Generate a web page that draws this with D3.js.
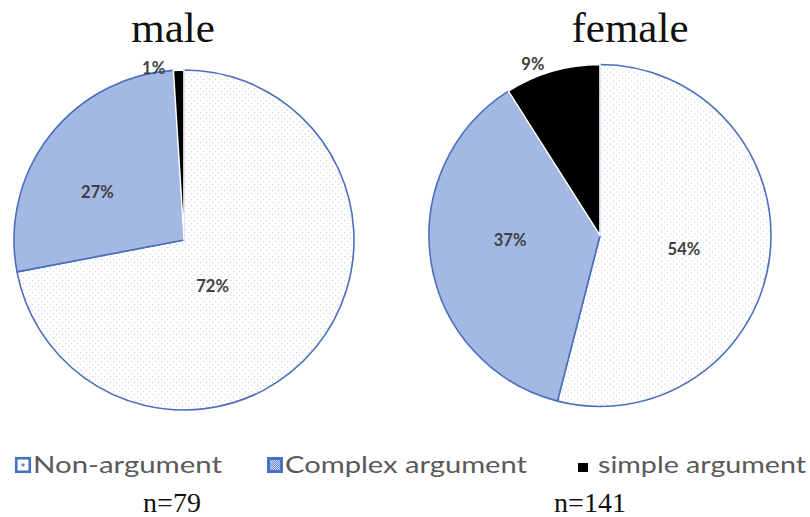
<!DOCTYPE html>
<html>
<head>
<meta charset="utf-8">
<script src="https://cdn.jsdelivr.net/npm/d3@7"></script>
<style>
  html, body { margin: 0; padding: 0; background: #fff; }
  svg { display: block; }
</style>
</head>
<body>
<svg id="chart" width="810" height="517"></svg>
<script>
// Argument types by gender (percent of answers)
const categories = ["Non-argument", "Complex argument", "simple argument"];
const groups = ["male", "female"];
const sampleSizes = [79, 141];
const maleValues = [72, 27, 1];
const femaleValues = [54, 37, 9];

// Layout of each pie: centre, radius and where each percent label sits
// (angle in degrees clockwise from 12 o'clock, distance from the centre)
const pieLayout = [
  { cx: 184, cy: 240, r: 170, titleX: 173, nX: 172,
    labels: [[148, 54], [299, 99], [350, 175]] },
  { cx: 600, cy: 235.5, r: 171, titleX: 630, nX: 590,
    labels: [[99, 85], [267, 90], [338.6, 184]] }
];

const svg = d3.select("#chart");
const defs = svg.append("defs");

// light dotted fill for the Non-argument slices
const dots = defs.append("pattern")
  .attr("id", "dots").attr("patternUnits", "userSpaceOnUse")
  .attr("width", 6).attr("height", 6);
dots.append("rect").attr("width", 6).attr("height", 6).attr("fill", "#ffffff");
dots.append("rect").attr("x", 1).attr("y", 1).attr("width", 1.2).attr("height", 1.2).attr("fill", "#cdd3df");
dots.append("rect").attr("x", 4).attr("y", 4).attr("width", 1.2).attr("height", 1.2).attr("fill", "#cdd3df");

// checker used inside the Complex argument legend key
const checker = defs.append("pattern")
  .attr("id", "checker").attr("patternUnits", "userSpaceOnUse")
  .attr("width", 2).attr("height", 2);
checker.append("rect").attr("width", 2).attr("height", 2).attr("fill", "#6f8fd0");
checker.append("rect").attr("width", 1).attr("height", 1).attr("fill", "#c8d4ef");
checker.append("rect").attr("x", 1).attr("y", 1).attr("width", 1).attr("height", 1).attr("fill", "#c8d4ef");

const fills = d3.scaleOrdinal().domain(categories)
  .range(["url(#dots)", "#a3b8e2", "#000000"]);
const strokes = d3.scaleOrdinal().domain(categories)
  .range(["#4a6fbd", "#4a6fbd", "#ffffff"]);

const pie = d3.pie().sort(null).value(d => d.value);

[maleValues, femaleValues].forEach((values, gi) => {
  const L = pieLayout[gi];
  const data = categories.map((c, i) => ({ category: c, value: values[i] }));
  const arcs = pie(data);
  const arc = d3.arc().innerRadius(0).outerRadius(L.r);

  const g = svg.append("g").attr("transform", `translate(${L.cx},${L.cy})`);

  g.selectAll("path.slice").data(arcs).join("path")
    .attr("class", "slice")
    .attr("d", arc)
    .attr("fill", d => fills(d.data.category))
    .attr("stroke", d => strokes(d.data.category))
    .attr("stroke-width", 1.6)
    .attr("stroke-linejoin", "round");

  g.selectAll("text.pct").data(arcs).join("text")
    .attr("class", "pct")
    .attr("x", (d, i) => L.labels[i][1] * Math.sin(L.labels[i][0] * Math.PI / 180))
    .attr("y", (d, i) => -L.labels[i][1] * Math.cos(L.labels[i][0] * Math.PI / 180))
    .attr("text-anchor", "middle")
    .attr("dominant-baseline", "central")
    .attr("font-family", "Lato, 'Open Sans', sans-serif")
    .attr("font-weight", "bold")
    .attr("font-size", 16.5)
    .attr("fill", "#404040")
    .text(d => d.data.value + "%");

  // group title
  svg.append("text")
    .attr("x", L.titleX).attr("y", 42)
    .attr("text-anchor", "middle")
    .attr("font-family", "'Liberation Serif', 'Times New Roman', serif")
    .attr("font-size", 43)
    .attr("fill", "#111")
    .text(groups[gi]);

  // sample size
  svg.append("text")
    .attr("x", L.nX).attr("y", 512)
    .attr("text-anchor", "middle")
    .attr("font-family", "'Liberation Serif', 'Times New Roman', serif")
    .attr("font-size", 28)
    .attr("fill", "#111")
    .text("n=" + sampleSizes[gi]);
});

// legend
const legendTextX = [33, 285, 598];
const legendWidths = [189, 242, 208];
const lg = svg.append("g");

lg.append("rect").attr("x", 16.25).attr("y", 458.25).attr("width", 13.5).attr("height", 13.5)
  .attr("fill", "#ffffff").attr("stroke", "#4472c4").attr("stroke-width", 2.6);
lg.append("rect").attr("x", 21.5).attr("y", 463.5).attr("width", 3).attr("height", 3)
  .attr("fill", "#7686a8");

lg.append("rect").attr("x", 267).attr("y", 457).attr("width", 16).attr("height", 16)
  .attr("fill", "#4472c4");
lg.append("rect").attr("x", 270).attr("y", 460).attr("width", 10).attr("height", 10)
  .attr("fill", "url(#checker)");

lg.append("rect").attr("x", 578).attr("y", 463).attr("width", 10).attr("height", 9)
  .attr("fill", "#000000");

lg.selectAll("text").data(categories).join("text")
  .attr("x", (d, i) => legendTextX[i])
  .attr("y", 473)
  .attr("font-family", "Lato, 'Open Sans', sans-serif")
  .attr("font-size", 24)
  .attr("fill", "#595959")
  .attr("textLength", (d, i) => legendWidths[i])
  .attr("lengthAdjust", "spacingAndGlyphs")
  .text(d => d);
</script>
</body>
</html>
